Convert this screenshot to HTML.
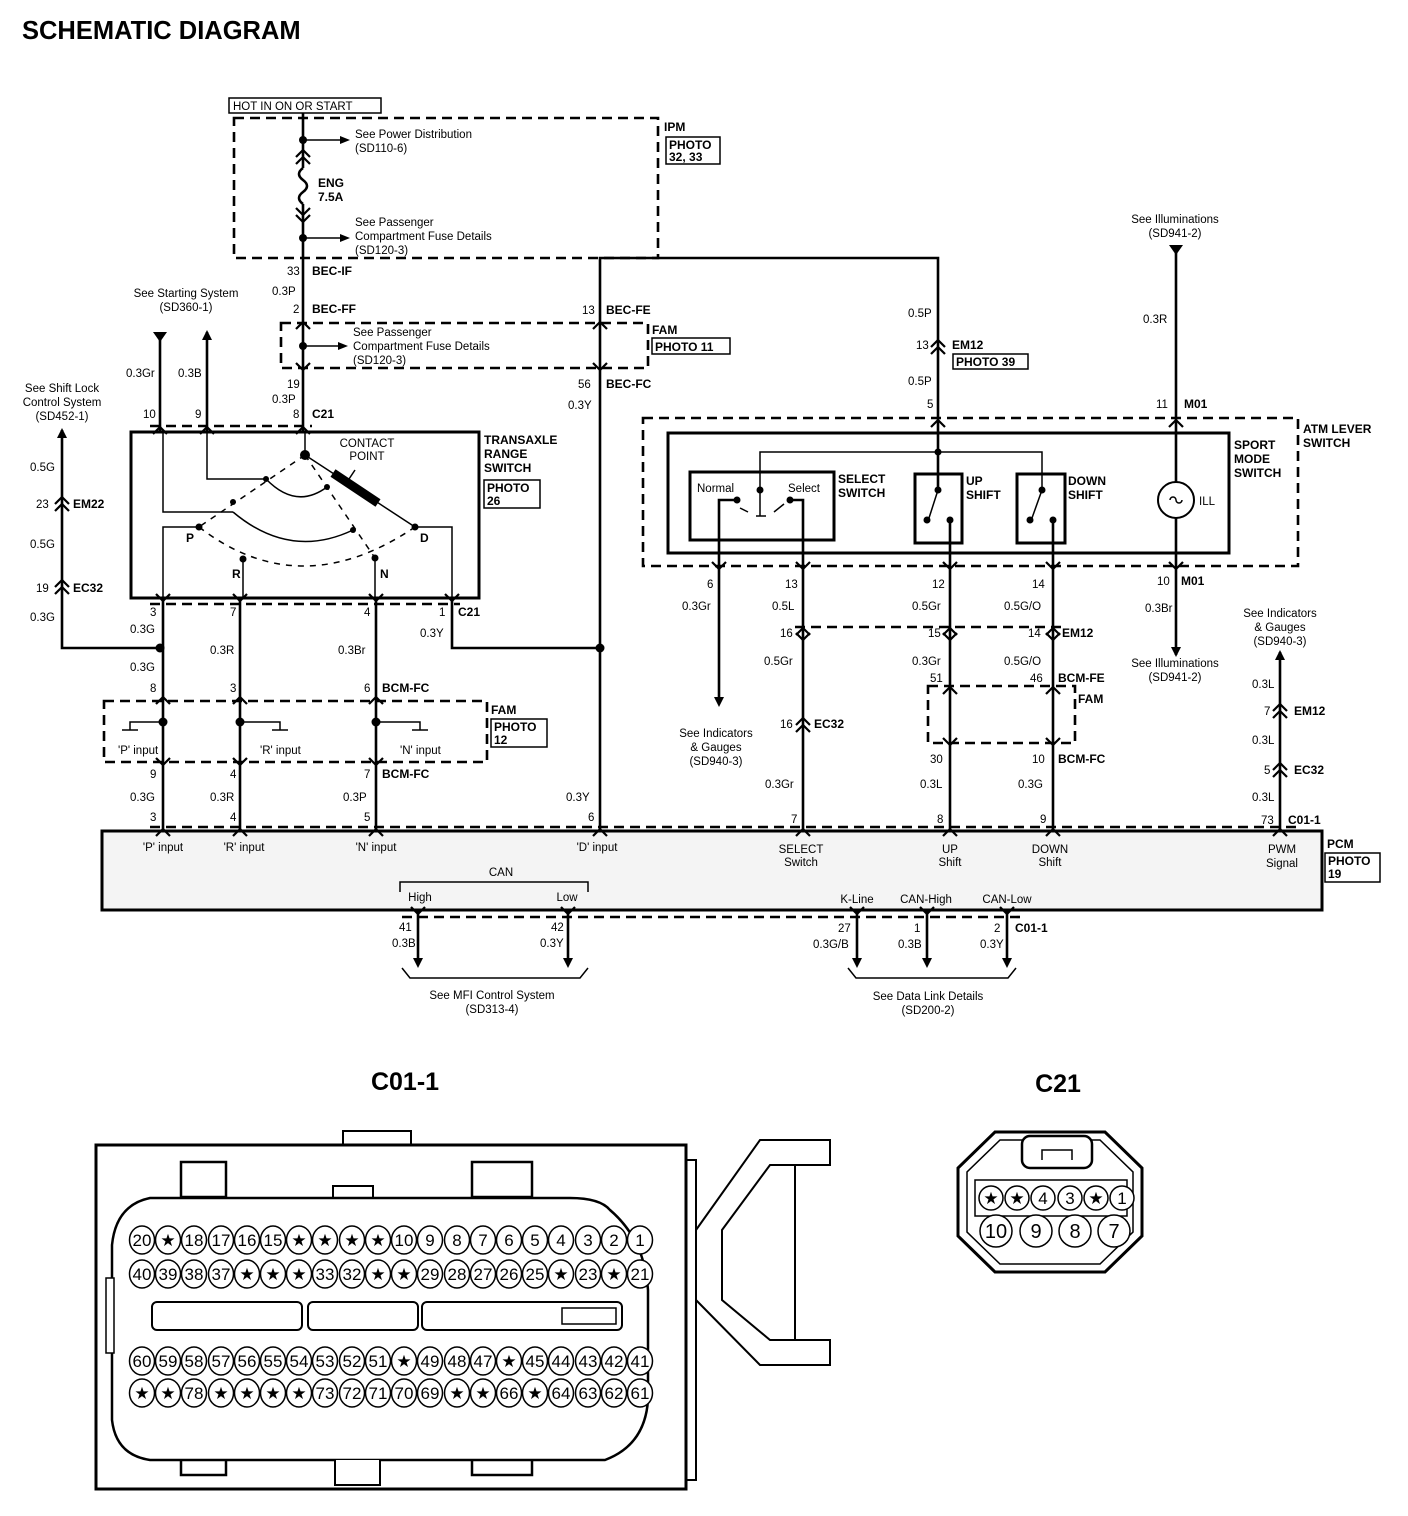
<!DOCTYPE html>
<html><head><meta charset="utf-8"><style>
html,body{margin:0;padding:0;background:#fff;}
svg{display:block;font-family:"Liberation Sans",Arial,sans-serif;}
.t{font-size:11.5px;fill:#000;}
.b{font-size:12px;font-weight:bold;fill:#000;}
.m{text-anchor:middle;}
.w{stroke:#000;stroke-width:2.6;fill:none;}
.th{stroke:#000;stroke-width:1.5;fill:none;}
.d{stroke:#000;stroke-width:2.6;fill:none;stroke-dasharray:10,6;}
.bx{stroke:#000;stroke-width:3;fill:none;}
.pin{fill:#fff;stroke:#000;stroke-width:1.5;}
.pn{font-size:17px;text-anchor:middle;fill:#000;}
</style></head><body>
<svg width="1408" height="1516" viewBox="0 0 1408 1516" xmlns="http://www.w3.org/2000/svg">
<defs>
<polyline id="cu" points="-7,7 0,0 7,7" stroke="#000" stroke-width="2.2" fill="none"/>
<polyline id="cd" points="-7,-7 0,0 7,-7" stroke="#000" stroke-width="2.2" fill="none"/>
<polygon id="au" points="-5,10 0,0 5,10" fill="#000"/>
<polygon id="ad" points="-5,-10 0,0 5,-10" fill="#000"/>
<polygon id="ar" points="-10,-4 0,0 -10,4" fill="#000"/>
</defs>
<text x="22" y="39" style="font-size:25.5px;font-weight:bold">SCHEMATIC DIAGRAM</text>

<!-- IPM top box -->
<rect x="229" y="98" width="152" height="15" fill="none" stroke="#000" stroke-width="1.5"/>
<text x="233" y="110" class="t">HOT IN ON OR START</text>
<rect x="234" y="118" width="424" height="140" class="d"/>
<text x="664" y="131" class="b">IPM</text>
<rect x="666" y="137" width="54" height="27" fill="none" stroke="#000" stroke-width="1.5"/>
<text x="669" y="149" class="b">PHOTO</text><text x="669" y="161" class="b">32, 33</text>
<line x1="303" y1="113" x2="303" y2="168" class="w"/>
<path d="M303,168 q-8,6 0,12 q8,6 0,12 q-8,6 0,12" class="w"/>
<line x1="303" y1="204" x2="303" y2="432" class="w"/>
<use href="#cu" x="303" y="150"/><use href="#cu" x="303" y="157"/>
<use href="#cd" x="303" y="215"/><use href="#cd" x="303" y="222"/>
<circle cx="303" cy="140" r="4"/><line x1="303" y1="140" x2="343" y2="140" class="th"/><use href="#ar" x="350" y="140"/>
<text x="355" y="138" class="t">See Power Distribution</text><text x="355" y="152" class="t">(SD110-6)</text>
<text x="318" y="187" class="b">ENG</text><text x="318" y="201" class="b">7.5A</text>
<circle cx="303" cy="238" r="4"/><line x1="303" y1="238" x2="343" y2="238" class="th"/><use href="#ar" x="350" y="238"/>
<text x="355" y="226" class="t">See Passenger</text><text x="355" y="240" class="t">Compartment Fuse Details</text><text x="355" y="254" class="t">(SD120-3)</text>
<text x="287" y="275" class="t">33</text><text x="312" y="275" class="b">BEC-IF</text>
<text x="272" y="295" class="t">0.3P</text>
<text x="293" y="313" class="t">2</text><text x="312" y="313" class="b">BEC-FF</text>
<use href="#cu" x="303" y="322"/>
<rect x="281" y="323" width="367" height="45" class="d"/>
<circle cx="303" cy="346" r="4"/><line x1="303" y1="346" x2="341" y2="346" class="th"/><use href="#ar" x="348" y="346"/>
<text x="353" y="336" class="t">See Passenger</text><text x="353" y="350" class="t">Compartment Fuse Details</text><text x="353" y="364" class="t">(SD120-3)</text>
<use href="#cd" x="303" y="370"/>
<text x="287" y="388" class="t">19</text><text x="272" y="403" class="t">0.3P</text>
<text x="293" y="418" class="t">8</text><text x="312" y="418" class="b">C21</text>
<text x="652" y="334" class="b">FAM</text>
<rect x="652" y="338" width="78" height="16" fill="none" stroke="#000" stroke-width="1.5"/><text x="655" y="351" class="b">PHOTO 11</text>

<!-- BEC-FE wire -->
<polyline points="600,318 600,258 938,258 938,432" class="w"/>
<line x1="600" y1="318" x2="600" y2="831" class="w"/>
<text x="582" y="314" class="t">13</text><text x="606" y="314" class="b">BEC-FE</text>
<use href="#cu" x="600" y="322"/><use href="#cd" x="600" y="370"/>
<text x="578" y="388" class="t">56</text><text x="606" y="388" class="b">BEC-FC</text>
<text x="568" y="409" class="t">0.3Y</text>
<circle cx="600" cy="648" r="4.5"/>

<!-- Starting system -->
<text x="186" y="297" class="t m">See Starting System</text><text x="186" y="311" class="t m">(SD360-1)</text>
<line x1="160" y1="332" x2="160" y2="432" class="w"/><polygon points="153,332 167,332 160,342" fill="#000"/>
<line x1="207" y1="332" x2="207" y2="432" class="w"/><use href="#au" x="207" y="330"/>
<text x="126" y="377" class="t">0.3Gr</text><text x="178" y="377" class="t">0.3B</text>
<text x="143" y="418" class="t">10</text><text x="195" y="418" class="t">9</text>
<line x1="150" y1="426" x2="312" y2="426" class="d" stroke-width="1.8"/>
<use href="#cu" x="160" y="427"/><use href="#cu" x="207" y="427"/><use href="#cu" x="303" y="427"/>

<!-- Shift lock -->
<text x="62" y="392" class="t m">See Shift Lock</text><text x="62" y="406" class="t m">Control System</text><text x="62" y="420" class="t m">(SD452-1)</text>
<polyline points="62,430 62,648 160,648" class="w"/><use href="#au" x="62" y="428"/>
<text x="30" y="471" class="t">0.5G</text>
<text x="36" y="508" class="t">23</text><use href="#cu" x="62" y="497"/><use href="#cu" x="62" y="504"/><text x="73" y="508" class="b">EM22</text>
<text x="30" y="548" class="t">0.5G</text>
<text x="36" y="592" class="t">19</text><use href="#cu" x="62" y="580"/><use href="#cu" x="62" y="587"/><text x="73" y="592" class="b">EC32</text>
<text x="30" y="621" class="t">0.3G</text>
<circle cx="160" cy="648" r="4.5"/>

<!-- Transaxle switch -->
<rect x="131" y="432" width="348" height="166" class="bx"/>
<text x="484" y="444" class="b">TRANSAXLE</text><text x="484" y="458" class="b">RANGE</text><text x="484" y="472" class="b">SWITCH</text>
<rect x="484" y="480" width="56" height="28" fill="none" stroke="#000" stroke-width="1.5"/><text x="487" y="492" class="b">PHOTO</text><text x="487" y="505" class="b">26</text>
<polyline points="163,432 163,512 233,512" class="th"/>
<polyline points="207,432 207,479 266,479" class="th"/>
<line x1="305" y1="432" x2="305" y2="455" class="th"/>
<circle cx="305" cy="455" r="5"/>
<path d="M266,479 Q296,510 327,487" class="th"/>
<path d="M233,512 Q290,560 353,530" class="th"/>
<path d="M199,527 Q300,605 415,527" class="th" stroke-dasharray="6,6"/>
<line x1="305" y1="455" x2="199" y2="527" class="th" stroke-dasharray="6,6"/>
<line x1="305" y1="455" x2="375" y2="558" class="th" stroke-dasharray="6,6"/>
<line x1="305" y1="455" x2="415" y2="527" class="th"/>
<line x1="333" y1="473" x2="378" y2="503" stroke="#000" stroke-width="9"/>
<line x1="355" y1="470" x2="345" y2="485" class="th"/>
<text x="367" y="447" class="t m">CONTACT</text><text x="367" y="460" class="t m">POINT</text>
<circle cx="266" cy="479" r="3"/><circle cx="327" cy="487" r="3"/><circle cx="233" cy="502" r="3"/><circle cx="353" cy="530" r="3"/>
<circle cx="199" cy="527" r="3.5"/><circle cx="243" cy="559" r="3.5"/><circle cx="375" cy="558" r="3.5"/><circle cx="415" cy="527" r="3.5"/>
<text x="186" y="542" class="b">P</text><text x="232" y="578" class="b">R</text><text x="380" y="578" class="b">N</text><text x="420" y="542" class="b">D</text>
<polyline points="163,598 163,527 199,527" class="th"/>
<line x1="243" y1="559" x2="243" y2="598" class="th"/>
<line x1="375" y1="558" x2="375" y2="598" class="th"/>
<polyline points="452,598 452,527 415,527" class="th"/>
<line x1="150" y1="604" x2="460" y2="604" class="d" stroke-width="1.8"/>
<use href="#cd" x="163" y="601"/><use href="#cd" x="240" y="601"/><use href="#cd" x="376" y="601"/><use href="#cd" x="452" y="601"/>

<!-- wires down from transaxle -->
<line x1="163" y1="598" x2="163" y2="831" class="w"/>
<line x1="240" y1="598" x2="240" y2="831" class="w"/>
<line x1="376" y1="598" x2="376" y2="831" class="w"/>
<polyline points="452,598 452,648 600,648" class="w"/>
<text x="150" y="616" class="t">3</text><text x="230" y="616" class="t">7</text><text x="364" y="616" class="t">4</text><text x="439" y="616" class="t">1</text><text x="458" y="616" class="b">C21</text>
<text x="130" y="633" class="t">0.3G</text><text x="420" y="637" class="t">0.3Y</text>
<text x="130" y="671" class="t">0.3G</text><text x="210" y="654" class="t">0.3R</text><text x="338" y="654" class="t">0.3Br</text>
<text x="150" y="692" class="t">8</text><text x="230" y="692" class="t">3</text><text x="364" y="692" class="t">6</text><text x="382" y="692" class="b">BCM-FC</text>
<use href="#cu" x="163" y="697"/><use href="#cu" x="240" y="697"/><use href="#cu" x="376" y="697"/>
<rect x="104" y="701" width="383" height="61" class="d"/>
<circle cx="163" cy="722" r="4.5"/><circle cx="240" cy="722" r="4.5"/><circle cx="376" cy="722" r="4.5"/>
<polyline points="163,722 130,722 130,730" class="th"/><line x1="122" y1="730" x2="138" y2="730" class="th"/>
<polyline points="240,722 280,722 280,730" class="th"/><line x1="272" y1="730" x2="288" y2="730" class="th"/>
<polyline points="376,722 420,722 420,730" class="th"/><line x1="412" y1="730" x2="428" y2="730" class="th"/>
<text x="118" y="754" class="t">'P' input</text><text x="260" y="754" class="t">'R' input</text><text x="400" y="754" class="t">'N' input</text>
<text x="491" y="714" class="b">FAM</text>
<rect x="491" y="719" width="56" height="28" fill="none" stroke="#000" stroke-width="1.5"/><text x="494" y="731" class="b">PHOTO</text><text x="494" y="744" class="b">12</text>
<use href="#cd" x="163" y="765"/><use href="#cd" x="240" y="765"/><use href="#cd" x="376" y="765"/>
<text x="150" y="778" class="t">9</text><text x="230" y="778" class="t">4</text><text x="364" y="778" class="t">7</text><text x="382" y="778" class="b">BCM-FC</text>
<text x="130" y="801" class="t">0.3G</text><text x="210" y="801" class="t">0.3R</text><text x="343" y="801" class="t">0.3P</text><text x="566" y="801" class="t">0.3Y</text>
<text x="150" y="821" class="t">3</text><text x="230" y="821" class="t">4</text><text x="364" y="821" class="t">5</text><text x="588" y="821" class="t">6</text>

<!-- right side: ATM lever -->
<text x="908" y="317" class="t">0.5P</text>
<text x="916" y="349" class="t">13</text><use href="#cu" x="938" y="340"/><use href="#cu" x="938" y="347"/><text x="952" y="349" class="b">EM12</text>
<rect x="953" y="354" width="75" height="15" fill="none" stroke="#000" stroke-width="1.5"/><text x="956" y="366" class="b">PHOTO 39</text>
<text x="908" y="385" class="t">0.5P</text>
<text x="927" y="408" class="t">5</text>
<rect x="643" y="418" width="655" height="148" class="d"/>
<use href="#cu" x="938" y="420"/><use href="#cu" x="1176" y="420"/>
<rect x="668" y="433" width="561" height="120" class="bx"/>
<text x="1303" y="433" class="b">ATM LEVER</text><text x="1303" y="447" class="b">SWITCH</text>
<text x="1234" y="449" class="b">SPORT</text><text x="1234" y="463" class="b">MODE</text><text x="1234" y="477" class="b">SWITCH</text>
<line x1="938" y1="432" x2="938" y2="490" class="w"/>
<polyline points="760,490 760,452 1042,452 1042,490" class="th"/>
<circle cx="938" cy="452" r="3.5"/>
<rect x="690" y="472" width="144" height="68" class="bx"/>
<text x="838" y="483" class="b">SELECT</text><text x="838" y="497" class="b">SWITCH</text>
<text x="697" y="492" class="t">Normal</text><text x="788" y="492" class="t">Select</text>
<circle cx="760" cy="490" r="3.5"/><line x1="760" y1="490" x2="760" y2="516" class="th"/><line x1="756" y1="516" x2="766" y2="516" class="th"/>
<line x1="748" y1="512" x2="740" y2="508" class="th"/><line x1="774" y1="512" x2="784" y2="504" class="th"/>
<circle cx="737" cy="500" r="3.5"/><circle cx="790" cy="500" r="3.5"/>
<polyline points="737,500 719,500 719,700" class="w"/>
<polyline points="790,500 803,500 803,831" class="w"/>
<rect x="915" y="474" width="47" height="69" class="bx"/>
<text x="966" y="485" class="b">UP</text><text x="966" y="499" class="b">SHIFT</text>
<circle cx="938" cy="490" r="3.5"/><line x1="938" y1="490" x2="929" y2="518" class="th"/><circle cx="927" cy="520" r="3.5"/><circle cx="950" cy="520" r="3.5"/>
<rect x="1017" y="474" width="48" height="69" class="bx"/>
<text x="1068" y="485" class="b">DOWN</text><text x="1068" y="499" class="b">SHIFT</text>
<circle cx="1042" cy="490" r="3.5"/><line x1="1042" y1="490" x2="1032" y2="518" class="th"/><circle cx="1030" cy="520" r="3.5"/><circle cx="1053" cy="520" r="3.5"/>
<line x1="950" y1="520" x2="950" y2="831" class="w"/>
<line x1="1053" y1="520" x2="1053" y2="831" class="w"/>
<!-- illumination -->
<text x="1175" y="223" class="t m">See Illuminations</text><text x="1175" y="237" class="t m">(SD941-2)</text>
<line x1="1176" y1="245" x2="1176" y2="482" class="w"/><polygon points="1169,245 1183,245 1176,255" fill="#000"/>
<circle cx="1176" cy="500" r="18" fill="#fff" stroke="#000" stroke-width="2"/>
<path d="M1170,500 a3,3 0 0 1 6,0 a3,3 0 0 0 6,0" class="th"/>
<text x="1199" y="505" class="t">ILL</text>
<line x1="1176" y1="518" x2="1176" y2="655" class="w"/><use href="#ad" x="1176" y="657"/>
<text x="1143" y="323" class="t">0.3R</text>
<text x="1156" y="408" class="t">11</text><text x="1184" y="408" class="b">M01</text>
<text x="1157" y="585" class="t">10</text><text x="1181" y="585" class="b">M01</text>
<text x="1145" y="612" class="t">0.3Br</text>
<text x="1175" y="667" class="t m">See Illuminations</text><text x="1175" y="681" class="t m">(SD941-2)</text>
<use href="#cd" x="719" y="569"/><use href="#cd" x="803" y="569"/><use href="#cd" x="950" y="569"/><use href="#cd" x="1053" y="569"/><use href="#cd" x="1176" y="569"/>
<use href="#ad" x="719" y="707"/>
<text x="707" y="588" class="t">6</text><text x="682" y="610" class="t">0.3Gr</text>
<text x="785" y="588" class="t">13</text><text x="772" y="610" class="t">0.5L</text>
<text x="932" y="588" class="t">12</text><text x="912" y="610" class="t">0.5Gr</text>
<text x="1032" y="588" class="t">14</text><text x="1004" y="610" class="t">0.5G/O</text>
<line x1="795" y1="627" x2="1062" y2="627" class="d" stroke-width="1.8"/>
<use href="#cu" x="803" y="628"/><use href="#cu" x="950" y="628"/><use href="#cu" x="1053" y="628"/>
<use href="#cd" x="803" y="640"/><use href="#cd" x="950" y="640"/><use href="#cd" x="1053" y="640"/>
<text x="780" y="637" class="t">16</text><text x="928" y="637" class="t">15</text><text x="1028" y="637" class="t">14</text><text x="1062" y="637" class="b">EM12</text>
<text x="764" y="665" class="t">0.5Gr</text><text x="912" y="665" class="t">0.3Gr</text><text x="1004" y="665" class="t">0.5G/O</text>
<text x="930" y="682" class="t">51</text><text x="1030" y="682" class="t">46</text><text x="1058" y="682" class="b">BCM-FE</text>
<use href="#cu" x="950" y="687"/><use href="#cu" x="1053" y="687"/>
<rect x="928" y="686" width="147" height="57" class="d"/>
<text x="1078" y="703" class="b">FAM</text>
<use href="#cd" x="950" y="745"/><use href="#cd" x="1053" y="745"/>
<text x="780" y="728" class="t">16</text><use href="#cu" x="803" y="718"/><use href="#cu" x="803" y="725"/><text x="814" y="728" class="b">EC32</text>
<text x="716" y="737" class="t m">See Indicators</text><text x="716" y="751" class="t m">&amp; Gauges</text><text x="716" y="765" class="t m">(SD940-3)</text>
<text x="930" y="763" class="t">30</text><text x="1032" y="763" class="t">10</text><text x="1058" y="763" class="b">BCM-FC</text>
<text x="765" y="788" class="t">0.3Gr</text><text x="920" y="788" class="t">0.3L</text><text x="1018" y="788" class="t">0.3G</text>
<text x="791" y="823" class="t">7</text><text x="937" y="823" class="t">8</text><text x="1040" y="823" class="t">9</text>
<!-- PWM -->
<text x="1280" y="617" class="t m">See Indicators</text><text x="1280" y="631" class="t m">&amp; Gauges</text><text x="1280" y="645" class="t m">(SD940-3)</text>
<line x1="1280" y1="652" x2="1280" y2="831" class="w"/><use href="#au" x="1280" y="650"/>
<text x="1252" y="688" class="t">0.3L</text>
<text x="1264" y="715" class="t">7</text><use href="#cu" x="1280" y="704"/><use href="#cu" x="1280" y="711"/><text x="1294" y="715" class="b">EM12</text>
<text x="1252" y="744" class="t">0.3L</text>
<text x="1264" y="774" class="t">5</text><use href="#cu" x="1280" y="763"/><use href="#cu" x="1280" y="770"/><text x="1294" y="774" class="b">EC32</text>
<text x="1252" y="801" class="t">0.3L</text>
<text x="1261" y="824" class="t">73</text><text x="1288" y="824" class="b">C01-1</text>

<!-- PCM -->
<line x1="150" y1="827" x2="1300" y2="827" class="d" stroke-width="1.8"/>
<rect x="102" y="831" width="1220" height="79" fill="#f4f4f4" stroke="#000" stroke-width="3"/>
<use href="#cu" x="163" y="829"/><use href="#cu" x="240" y="829"/><use href="#cu" x="376" y="829"/><use href="#cu" x="600" y="829"/><use href="#cu" x="803" y="829"/><use href="#cu" x="950" y="829"/><use href="#cu" x="1053" y="829"/><use href="#cu" x="1280" y="829"/>
<text x="163" y="851" class="t m">'P' input</text><text x="244" y="851" class="t m">'R' input</text><text x="376" y="851" class="t m">'N' input</text><text x="597" y="851" class="t m">'D' input</text>
<text x="801" y="853" class="t m">SELECT</text><text x="801" y="866" class="t m">Switch</text>
<text x="950" y="853" class="t m">UP</text><text x="950" y="866" class="t m">Shift</text>
<text x="1050" y="853" class="t m">DOWN</text><text x="1050" y="866" class="t m">Shift</text>
<text x="1282" y="853" class="t m">PWM</text><text x="1282" y="867" class="t m">Signal</text>
<text x="1327" y="848" class="b">PCM</text>
<rect x="1325" y="853" width="55" height="29" fill="none" stroke="#000" stroke-width="1.5"/><text x="1328" y="865" class="b">PHOTO</text><text x="1328" y="878" class="b">19</text>
<text x="501" y="876" class="t m">CAN</text>
<polyline points="400,892 400,882 588,882 588,892" class="th"/>
<text x="420" y="901" class="t m">High</text><text x="567" y="901" class="t m">Low</text>
<text x="857" y="903" class="t m">K-Line</text><text x="926" y="903" class="t m">CAN-High</text><text x="1007" y="903" class="t m">CAN-Low</text>
<line x1="402" y1="917" x2="1022" y2="917" class="d" stroke-width="1.8"/>
<use href="#cd" x="418" y="914"/><use href="#cd" x="568" y="914"/><use href="#cd" x="857" y="914"/><use href="#cd" x="927" y="914"/><use href="#cd" x="1007" y="914"/>
<line x1="418" y1="910" x2="418" y2="962" class="w"/><use href="#ad" x="418" y="968"/>
<line x1="568" y1="910" x2="568" y2="962" class="w"/><use href="#ad" x="568" y="968"/>
<line x1="857" y1="910" x2="857" y2="962" class="w"/><use href="#ad" x="857" y="968"/>
<line x1="927" y1="910" x2="927" y2="962" class="w"/><use href="#ad" x="927" y="968"/>
<line x1="1007" y1="910" x2="1007" y2="962" class="w"/><use href="#ad" x="1007" y="968"/>
<text x="399" y="931" class="t">41</text><text x="392" y="947" class="t">0.3B</text>
<text x="551" y="931" class="t">42</text><text x="540" y="947" class="t">0.3Y</text>
<text x="838" y="932" class="t">27</text><text x="813" y="948" class="t">0.3G/B</text>
<text x="914" y="932" class="t">1</text><text x="898" y="948" class="t">0.3B</text>
<text x="994" y="932" class="t">2</text><text x="1015" y="932" class="b">C01-1</text><text x="980" y="948" class="t">0.3Y</text>
<polyline points="402,968 410,978 580,978 588,968" class="th"/>
<polyline points="848,968 856,978 1008,978 1016,968" class="th"/>
<text x="492" y="999" class="t m">See MFI Control System</text><text x="492" y="1013" class="t m">(SD313-4)</text>
<text x="928" y="1000" class="t m">See Data Link Details</text><text x="928" y="1014" class="t m">(SD200-2)</text>

<!-- C01-1 connector -->
<text x="405" y="1090" style="font-size:25px;font-weight:bold" class="m">C01-1</text>
<rect x="343" y="1131" width="68" height="14" fill="#fff" stroke="#000" stroke-width="2"/>
<rect x="96" y="1145" width="590" height="344" fill="none" stroke="#000" stroke-width="3"/>
<rect x="686" y="1160" width="10" height="320" fill="none" stroke="#000" stroke-width="2"/>
<polyline points="696,1230 760,1140 830,1140 830,1165 770,1165 722,1230 722,1300 770,1340 830,1340 830,1365 760,1365 696,1300" fill="none" stroke="#000" stroke-width="2"/>
<line x1="795" y1="1165" x2="795" y2="1340" stroke="#000" stroke-width="2"/>
<rect x="181" y="1162" width="45" height="35" fill="none" stroke="#000" stroke-width="2.5"/>
<rect x="472" y="1162" width="60" height="35" fill="none" stroke="#000" stroke-width="2.5"/>
<rect x="181" y="1440" width="45" height="35" fill="none" stroke="#000" stroke-width="2.5"/>
<rect x="472" y="1440" width="60" height="35" fill="none" stroke="#000" stroke-width="2.5"/>
<rect x="333" y="1186" width="40" height="14" fill="#fff" stroke="#000" stroke-width="2"/>
<path d="M150,1198 L570,1198 Q600,1198 610,1210 Q645,1240 648,1290 L648,1400 Q645,1445 605,1460 L150,1460 Q116,1455 112,1420 L112,1245 Q116,1205 150,1198 Z" fill="#fff" stroke="#000" stroke-width="2.5"/>
<path d="M335,1460 L335,1485 L380,1485 L380,1460" fill="#fff" stroke="#000" stroke-width="2"/>
<rect x="106" y="1278" width="8" height="75" fill="#fff" stroke="#000" stroke-width="1.5"/>
<rect x="152" y="1302" width="150" height="28" rx="5" fill="none" stroke="#000" stroke-width="2"/>
<rect x="308" y="1302" width="110" height="28" rx="5" fill="none" stroke="#000" stroke-width="2"/>
<rect x="422" y="1302" width="200" height="28" rx="5" fill="none" stroke="#000" stroke-width="2"/>
<rect x="562" y="1308" width="54" height="16" fill="none" stroke="#000" stroke-width="1.5"/>
<g>
<ellipse class="pin" cx="142" cy="1240" rx="12.5" ry="14"/><text class="pn" x="142" y="1246">20</text>
<ellipse class="pin" cx="168" cy="1240" rx="12.5" ry="14"/><text class="pn" x="168" y="1246">★</text>
<ellipse class="pin" cx="194" cy="1240" rx="12.5" ry="14"/><text class="pn" x="194" y="1246">18</text>
<ellipse class="pin" cx="221" cy="1240" rx="12.5" ry="14"/><text class="pn" x="221" y="1246">17</text>
<ellipse class="pin" cx="247" cy="1240" rx="12.5" ry="14"/><text class="pn" x="247" y="1246">16</text>
<ellipse class="pin" cx="273" cy="1240" rx="12.5" ry="14"/><text class="pn" x="273" y="1246">15</text>
<ellipse class="pin" cx="299" cy="1240" rx="12.5" ry="14"/><text class="pn" x="299" y="1246">★</text>
<ellipse class="pin" cx="325" cy="1240" rx="12.5" ry="14"/><text class="pn" x="325" y="1246">★</text>
<ellipse class="pin" cx="352" cy="1240" rx="12.5" ry="14"/><text class="pn" x="352" y="1246">★</text>
<ellipse class="pin" cx="378" cy="1240" rx="12.5" ry="14"/><text class="pn" x="378" y="1246">★</text>
<ellipse class="pin" cx="404" cy="1240" rx="12.5" ry="14"/><text class="pn" x="404" y="1246">10</text>
<ellipse class="pin" cx="430" cy="1240" rx="12.5" ry="14"/><text class="pn" x="430" y="1246">9</text>
<ellipse class="pin" cx="457" cy="1240" rx="12.5" ry="14"/><text class="pn" x="457" y="1246">8</text>
<ellipse class="pin" cx="483" cy="1240" rx="12.5" ry="14"/><text class="pn" x="483" y="1246">7</text>
<ellipse class="pin" cx="509" cy="1240" rx="12.5" ry="14"/><text class="pn" x="509" y="1246">6</text>
<ellipse class="pin" cx="535" cy="1240" rx="12.5" ry="14"/><text class="pn" x="535" y="1246">5</text>
<ellipse class="pin" cx="561" cy="1240" rx="12.5" ry="14"/><text class="pn" x="561" y="1246">4</text>
<ellipse class="pin" cx="588" cy="1240" rx="12.5" ry="14"/><text class="pn" x="588" y="1246">3</text>
<ellipse class="pin" cx="614" cy="1240" rx="12.5" ry="14"/><text class="pn" x="614" y="1246">2</text>
<ellipse class="pin" cx="640" cy="1240" rx="12.5" ry="14"/><text class="pn" x="640" y="1246">1</text>
</g>
<g>
<ellipse class="pin" cx="142" cy="1274" rx="12.5" ry="14"/><text class="pn" x="142" y="1280">40</text>
<ellipse class="pin" cx="168" cy="1274" rx="12.5" ry="14"/><text class="pn" x="168" y="1280">39</text>
<ellipse class="pin" cx="194" cy="1274" rx="12.5" ry="14"/><text class="pn" x="194" y="1280">38</text>
<ellipse class="pin" cx="221" cy="1274" rx="12.5" ry="14"/><text class="pn" x="221" y="1280">37</text>
<ellipse class="pin" cx="247" cy="1274" rx="12.5" ry="14"/><text class="pn" x="247" y="1280">★</text>
<ellipse class="pin" cx="273" cy="1274" rx="12.5" ry="14"/><text class="pn" x="273" y="1280">★</text>
<ellipse class="pin" cx="299" cy="1274" rx="12.5" ry="14"/><text class="pn" x="299" y="1280">★</text>
<ellipse class="pin" cx="325" cy="1274" rx="12.5" ry="14"/><text class="pn" x="325" y="1280">33</text>
<ellipse class="pin" cx="352" cy="1274" rx="12.5" ry="14"/><text class="pn" x="352" y="1280">32</text>
<ellipse class="pin" cx="378" cy="1274" rx="12.5" ry="14"/><text class="pn" x="378" y="1280">★</text>
<ellipse class="pin" cx="404" cy="1274" rx="12.5" ry="14"/><text class="pn" x="404" y="1280">★</text>
<ellipse class="pin" cx="430" cy="1274" rx="12.5" ry="14"/><text class="pn" x="430" y="1280">29</text>
<ellipse class="pin" cx="457" cy="1274" rx="12.5" ry="14"/><text class="pn" x="457" y="1280">28</text>
<ellipse class="pin" cx="483" cy="1274" rx="12.5" ry="14"/><text class="pn" x="483" y="1280">27</text>
<ellipse class="pin" cx="509" cy="1274" rx="12.5" ry="14"/><text class="pn" x="509" y="1280">26</text>
<ellipse class="pin" cx="535" cy="1274" rx="12.5" ry="14"/><text class="pn" x="535" y="1280">25</text>
<ellipse class="pin" cx="561" cy="1274" rx="12.5" ry="14"/><text class="pn" x="561" y="1280">★</text>
<ellipse class="pin" cx="588" cy="1274" rx="12.5" ry="14"/><text class="pn" x="588" y="1280">23</text>
<ellipse class="pin" cx="614" cy="1274" rx="12.5" ry="14"/><text class="pn" x="614" y="1280">★</text>
<ellipse class="pin" cx="640" cy="1274" rx="12.5" ry="14"/><text class="pn" x="640" y="1280">21</text>
</g>
<g>
<ellipse class="pin" cx="142" cy="1361" rx="12.5" ry="14"/><text class="pn" x="142" y="1367">60</text>
<ellipse class="pin" cx="168" cy="1361" rx="12.5" ry="14"/><text class="pn" x="168" y="1367">59</text>
<ellipse class="pin" cx="194" cy="1361" rx="12.5" ry="14"/><text class="pn" x="194" y="1367">58</text>
<ellipse class="pin" cx="221" cy="1361" rx="12.5" ry="14"/><text class="pn" x="221" y="1367">57</text>
<ellipse class="pin" cx="247" cy="1361" rx="12.5" ry="14"/><text class="pn" x="247" y="1367">56</text>
<ellipse class="pin" cx="273" cy="1361" rx="12.5" ry="14"/><text class="pn" x="273" y="1367">55</text>
<ellipse class="pin" cx="299" cy="1361" rx="12.5" ry="14"/><text class="pn" x="299" y="1367">54</text>
<ellipse class="pin" cx="325" cy="1361" rx="12.5" ry="14"/><text class="pn" x="325" y="1367">53</text>
<ellipse class="pin" cx="352" cy="1361" rx="12.5" ry="14"/><text class="pn" x="352" y="1367">52</text>
<ellipse class="pin" cx="378" cy="1361" rx="12.5" ry="14"/><text class="pn" x="378" y="1367">51</text>
<ellipse class="pin" cx="404" cy="1361" rx="12.5" ry="14"/><text class="pn" x="404" y="1367">★</text>
<ellipse class="pin" cx="430" cy="1361" rx="12.5" ry="14"/><text class="pn" x="430" y="1367">49</text>
<ellipse class="pin" cx="457" cy="1361" rx="12.5" ry="14"/><text class="pn" x="457" y="1367">48</text>
<ellipse class="pin" cx="483" cy="1361" rx="12.5" ry="14"/><text class="pn" x="483" y="1367">47</text>
<ellipse class="pin" cx="509" cy="1361" rx="12.5" ry="14"/><text class="pn" x="509" y="1367">★</text>
<ellipse class="pin" cx="535" cy="1361" rx="12.5" ry="14"/><text class="pn" x="535" y="1367">45</text>
<ellipse class="pin" cx="561" cy="1361" rx="12.5" ry="14"/><text class="pn" x="561" y="1367">44</text>
<ellipse class="pin" cx="588" cy="1361" rx="12.5" ry="14"/><text class="pn" x="588" y="1367">43</text>
<ellipse class="pin" cx="614" cy="1361" rx="12.5" ry="14"/><text class="pn" x="614" y="1367">42</text>
<ellipse class="pin" cx="640" cy="1361" rx="12.5" ry="14"/><text class="pn" x="640" y="1367">41</text>
</g>
<g>
<ellipse class="pin" cx="142" cy="1393" rx="12.5" ry="14"/><text class="pn" x="142" y="1399">★</text>
<ellipse class="pin" cx="168" cy="1393" rx="12.5" ry="14"/><text class="pn" x="168" y="1399">★</text>
<ellipse class="pin" cx="194" cy="1393" rx="12.5" ry="14"/><text class="pn" x="194" y="1399">78</text>
<ellipse class="pin" cx="221" cy="1393" rx="12.5" ry="14"/><text class="pn" x="221" y="1399">★</text>
<ellipse class="pin" cx="247" cy="1393" rx="12.5" ry="14"/><text class="pn" x="247" y="1399">★</text>
<ellipse class="pin" cx="273" cy="1393" rx="12.5" ry="14"/><text class="pn" x="273" y="1399">★</text>
<ellipse class="pin" cx="299" cy="1393" rx="12.5" ry="14"/><text class="pn" x="299" y="1399">★</text>
<ellipse class="pin" cx="325" cy="1393" rx="12.5" ry="14"/><text class="pn" x="325" y="1399">73</text>
<ellipse class="pin" cx="352" cy="1393" rx="12.5" ry="14"/><text class="pn" x="352" y="1399">72</text>
<ellipse class="pin" cx="378" cy="1393" rx="12.5" ry="14"/><text class="pn" x="378" y="1399">71</text>
<ellipse class="pin" cx="404" cy="1393" rx="12.5" ry="14"/><text class="pn" x="404" y="1399">70</text>
<ellipse class="pin" cx="430" cy="1393" rx="12.5" ry="14"/><text class="pn" x="430" y="1399">69</text>
<ellipse class="pin" cx="457" cy="1393" rx="12.5" ry="14"/><text class="pn" x="457" y="1399">★</text>
<ellipse class="pin" cx="483" cy="1393" rx="12.5" ry="14"/><text class="pn" x="483" y="1399">★</text>
<ellipse class="pin" cx="509" cy="1393" rx="12.5" ry="14"/><text class="pn" x="509" y="1399">66</text>
<ellipse class="pin" cx="535" cy="1393" rx="12.5" ry="14"/><text class="pn" x="535" y="1399">★</text>
<ellipse class="pin" cx="561" cy="1393" rx="12.5" ry="14"/><text class="pn" x="561" y="1399">64</text>
<ellipse class="pin" cx="588" cy="1393" rx="12.5" ry="14"/><text class="pn" x="588" y="1399">63</text>
<ellipse class="pin" cx="614" cy="1393" rx="12.5" ry="14"/><text class="pn" x="614" y="1399">62</text>
<ellipse class="pin" cx="640" cy="1393" rx="12.5" ry="14"/><text class="pn" x="640" y="1399">61</text>
</g>

<!-- C21 connector -->
<text x="1058" y="1092" style="font-size:25px;font-weight:bold" class="m">C21</text>
<polygon points="995,1132 1105,1132 1142,1168 1142,1236 1105,1272 995,1272 958,1236 958,1168" fill="none" stroke="#000" stroke-width="3"/>
<polygon points="1000,1140 1100,1140 1133,1172 1133,1232 1100,1264 1000,1264 967,1232 967,1172" fill="none" stroke="#000" stroke-width="1.5"/>
<rect x="1022" y="1136" width="70" height="32" rx="8" fill="#fff" stroke="#000" stroke-width="2.5"/>
<polyline points="1042,1160 1042,1150 1072,1150 1072,1160" class="th"/>
<rect x="975" y="1180" width="152" height="36" fill="none" stroke="#000" stroke-width="1.5"/>
<circle class="pin" cx="991" cy="1198" r="12"/><text class="pn" x="991" y="1204">★</text>
<circle class="pin" cx="1017" cy="1198" r="12"/><text class="pn" x="1017" y="1204">★</text>
<circle class="pin" cx="1043" cy="1198" r="12"/><text class="pn" x="1043" y="1204">4</text>
<circle class="pin" cx="1070" cy="1198" r="12"/><text class="pn" x="1070" y="1204">3</text>
<circle class="pin" cx="1096" cy="1198" r="12"/><text class="pn" x="1096" y="1204">★</text>
<circle class="pin" cx="1122" cy="1198" r="12"/><text class="pn" x="1122" y="1204">1</text>
<circle class="pin" cx="996" cy="1231" r="16"/><text class="pn" x="996" y="1238" style="font-size:20px">10</text>
<circle class="pin" cx="1036" cy="1231" r="16"/><text class="pn" x="1036" y="1238" style="font-size:20px">9</text>
<circle class="pin" cx="1075" cy="1231" r="16"/><text class="pn" x="1075" y="1238" style="font-size:20px">8</text>
<circle class="pin" cx="1114" cy="1231" r="16"/><text class="pn" x="1114" y="1238" style="font-size:20px">7</text>
</svg>
</body></html>
